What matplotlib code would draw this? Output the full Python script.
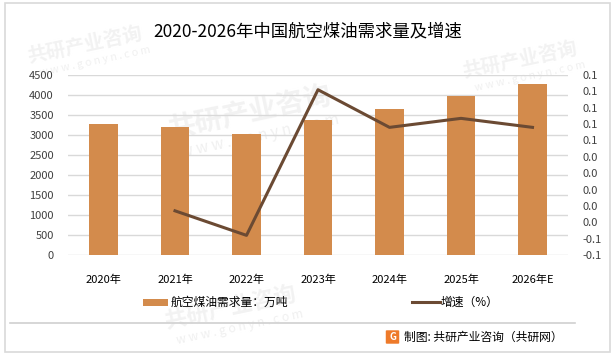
import numpy as np
import matplotlib.pyplot as plt
from matplotlib.patches import Rectangle, FancyBboxPatch
from matplotlib.lines import Line2D

plt.rcParams['font.family'] = ['Noto Sans CJK SC', 'DejaVu Sans']

# data
years = ['2020年', '2021年', '2022年', '2023年', '2024年', '2025年', '2026年E']
demand = [3275, 3200, 3025, 3375, 3650, 3985, 4275]
growth = [np.nan, -0.026, -0.056, 0.122, 0.076, 0.087, 0.076]

bar_color = '#D38B4C'
line_color = '#6B4A33'

W, H = 616, 358
fig = plt.figure(figsize=(W / 100, H / 100), dpi=100)

# outer frame and footer rule
fig.patches.append(Rectangle((5 / W, 1 - 352 / H), 605 / W, 349 / H, transform=fig.transFigure,
                             fill=False, edgecolor='#D9D9D9', linewidth=1.2))
fig.lines.append(Line2D([10 / W, 575 / W], [1 - 323 / H, 1 - 323 / H], transform=fig.transFigure,
                        color='#D0D0D0', linewidth=1.2))

# faint watermarks
wm = [(85, 45, 14), (250, 112, 20), (230, 308, 16), (520, 60, 14)]
for x, y, s in wm:
    fig.text(x / W, 1 - y / H, '共研产业咨询', fontsize=s, color='#F2F2F2', fontweight='bold',
             rotation=12, ha='center', va='center', zorder=0)
    fig.text((x + 10) / W, 1 - (y + s * 1.2) / H, 'w w w . g o n y n . c o m', fontsize=s * 0.55,
             color='#F0F0F0', rotation=12, ha='center', va='center', zorder=0)

ax = fig.add_axes([67.75 / W, 1 - 255 / H, 500.5 / W, 180 / H])
ax.set_zorder(1)
ax.patch.set_alpha(0)
x = np.arange(len(years))
ax.bar(x, demand, width=0.405, color=bar_color, zorder=2)
ax.set_ylim(0, 4500)
ax.set_yticks(np.arange(0, 4501, 500))
ax.set_xlim(-0.5, len(years) - 0.5)
ax.set_xticks(x)
ax.set_xticklabels(years, fontsize=7.5)
ax.grid(axis='y', color='#D9D9D9', linewidth=1, zorder=0)
ax.set_axisbelow(True)
for s in ax.spines.values():
    s.set_visible(False)
ax.tick_params(axis='both', length=0, labelsize=8, colors='#404040')
ax.tick_params(axis='y', pad=10)
ax.tick_params(axis='x', pad=14, colors='black')

ax2 = ax.twinx()
ax2.plot(x, growth, color=line_color, linewidth=2.2, zorder=3)
ax2.set_ylim(-0.08, 0.14)
ax2.set_yticks(np.linspace(-0.08, 0.14, 12))
ax2.set_yticklabels(['%.1f' % abs(v) if abs(v) < 0.05 else '%.1f' % v
                     for v in np.linspace(-0.08, 0.14, 12)])
for s in ax2.spines.values():
    s.set_visible(False)
ax2.tick_params(axis='y', length=0, labelsize=8, colors='#404040', pad=10)

fig.text(0.5, 1 - 31 / H, '2020-2026年中国航空煤油需求量及增速', fontsize=12.5,
         ha='center', va='center', color='black')

# legend
fig.patches.append(Rectangle((143 / W, 1 - 306 / H), 25 / W, 7 / H, transform=fig.transFigure,
                             facecolor=bar_color, edgecolor='none'))
fig.text(171 / W, 1 - 302 / H, '航空煤油需求量：万吨', fontsize=8.5, va='center', ha='left')
fig.lines.append(Line2D([412 / W, 440 / W], [1 - 302 / H, 1 - 302 / H], transform=fig.transFigure,
                        color=line_color, linewidth=2.2))
fig.text(441 / W, 1 - 302 / H, '增速（%）', fontsize=8.5, va='center', ha='left')

# footer
fig.patches.append(FancyBboxPatch((387 / W, 1 - 343 / H), 11 / W, 12 / H, transform=fig.transFigure,
                                  boxstyle='round,pad=0.002', facecolor='#EE7A2A', edgecolor='none'))
fig.text(392.5 / W, 1 - 337 / H, 'G', fontsize=7, color='white', fontweight='bold',
         ha='center', va='center')
fig.text(404 / W, 1 - 337 / H, '制图: 共研产业咨询（共研网）', fontsize=8.5, va='center', ha='left')

fig.savefig('out.png', dpi=100)
